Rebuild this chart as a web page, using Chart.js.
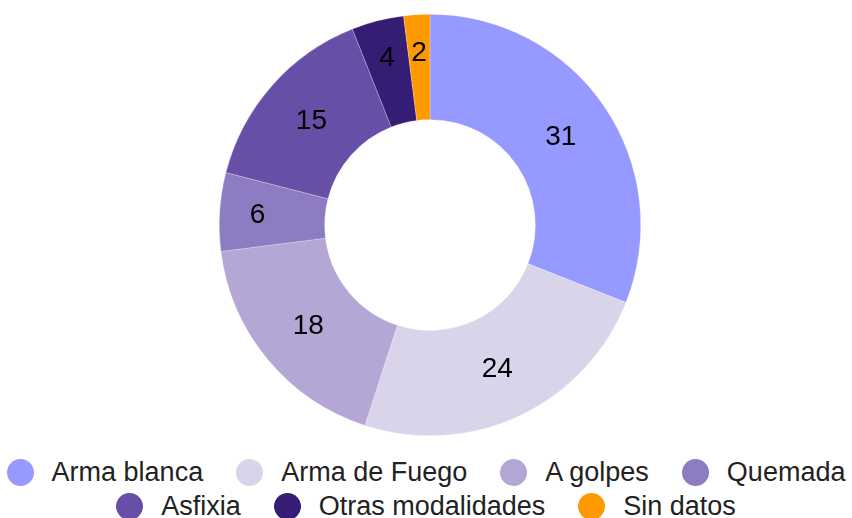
<!DOCTYPE html>
<html>
<head>
<meta charset="utf-8">
<script src="https://cdn.jsdelivr.net/npm/chart.js@4"></script>
<style>
  html, body { margin: 0; padding: 0; background: #fff; }
  body { width: 852px; height: 518px; position: relative; overflow: hidden;
         font-family: "Liberation Sans", Arial, sans-serif; }
  #wrap { position: absolute; left: 0; top: 0; width: 852px; height: 440px; }
  .row { position: absolute; left: 0; width: 852px; height: 34px; display: flex;
         justify-content: center; align-items: center; white-space: nowrap;
         font-size: 27px; color: #222; }
  .item { display: flex; align-items: center; margin: 0 16.5px; }
  .dot { width: 27px; height: 27px; border-radius: 50%; margin-right: 18px; }
</style>
</head>
<body>
<div id="wrap"><canvas id="chart"></canvas></div>
<div id="legend"></div>
<script>
// chart data
const categories = ['Arma blanca', 'Arma de Fuego', 'A golpes', 'Quemada', 'Asfixia', 'Otras modalidades', 'Sin datos'];
const values = [31, 24, 18, 6, 15, 4, 2];
const colors = ['#9699ff', '#d9d4e9', '#b4a7d6', '#8e7cc3', '#674ea7', '#351c75', '#ff9900'];
const legendRows = [[0, 1, 2, 3], [4, 5, 6]];

// numbers inside the slices (small slices pushed outwards a bit)
const sliceLabels = {
  id: 'sliceLabels',
  afterDatasetsDraw(chart) {
    const ctx = chart.ctx;
    const meta = chart.getDatasetMeta(0);
    ctx.save();
    ctx.font = '28px "Liberation Sans", Arial, sans-serif';
    ctx.fillStyle = '#000';
    ctx.textAlign = 'center';
    ctx.textBaseline = 'middle';
    meta.data.forEach((arc, i) => {
      const p = arc.getProps(['x', 'y', 'startAngle', 'endAngle', 'innerRadius', 'outerRadius'], true);
      const mid = (p.startAngle + p.endAngle) / 2;
      const k = values[i] < 10 ? 0.64 : 0.5;
      const r = p.innerRadius + (p.outerRadius - p.innerRadius) * k;
      ctx.fillText(String(values[i]), p.x + Math.cos(mid) * r, p.y + Math.sin(mid) * r + 1);
    });
    ctx.restore();
  }
};

new Chart(document.getElementById('chart'), {
  type: 'doughnut',
  data: {
    labels: categories,
    datasets: [{
      data: values,
      backgroundColor: colors,
      borderColor: 'rgba(255,255,255,0.5)',
      borderWidth: 0.5
    }]
  },
  options: {
    responsive: true,
    maintainAspectRatio: false,
    animation: false,
    cutout: '50%',
    layout: { padding: { top: 14, bottom: 4, left: 8 } },
    plugins: {
      legend: { display: false },
      tooltip: { enabled: false }
    }
  },
  plugins: [sliceLabels]
});

// legend below the chart
const legend = document.getElementById('legend');
legendRows.forEach((row, r) => {
  const div = document.createElement('div');
  div.className = 'row';
  div.style.top = (455 + r * 34) + 'px';
  row.forEach(i => {
    const item = document.createElement('div');
    item.className = 'item';
    const dot = document.createElement('span');
    dot.className = 'dot';
    dot.style.background = colors[i];
    item.appendChild(dot);
    item.appendChild(document.createTextNode(categories[i]));
    div.appendChild(item);
  });
  legend.appendChild(div);
});
</script>
</body>
</html>
